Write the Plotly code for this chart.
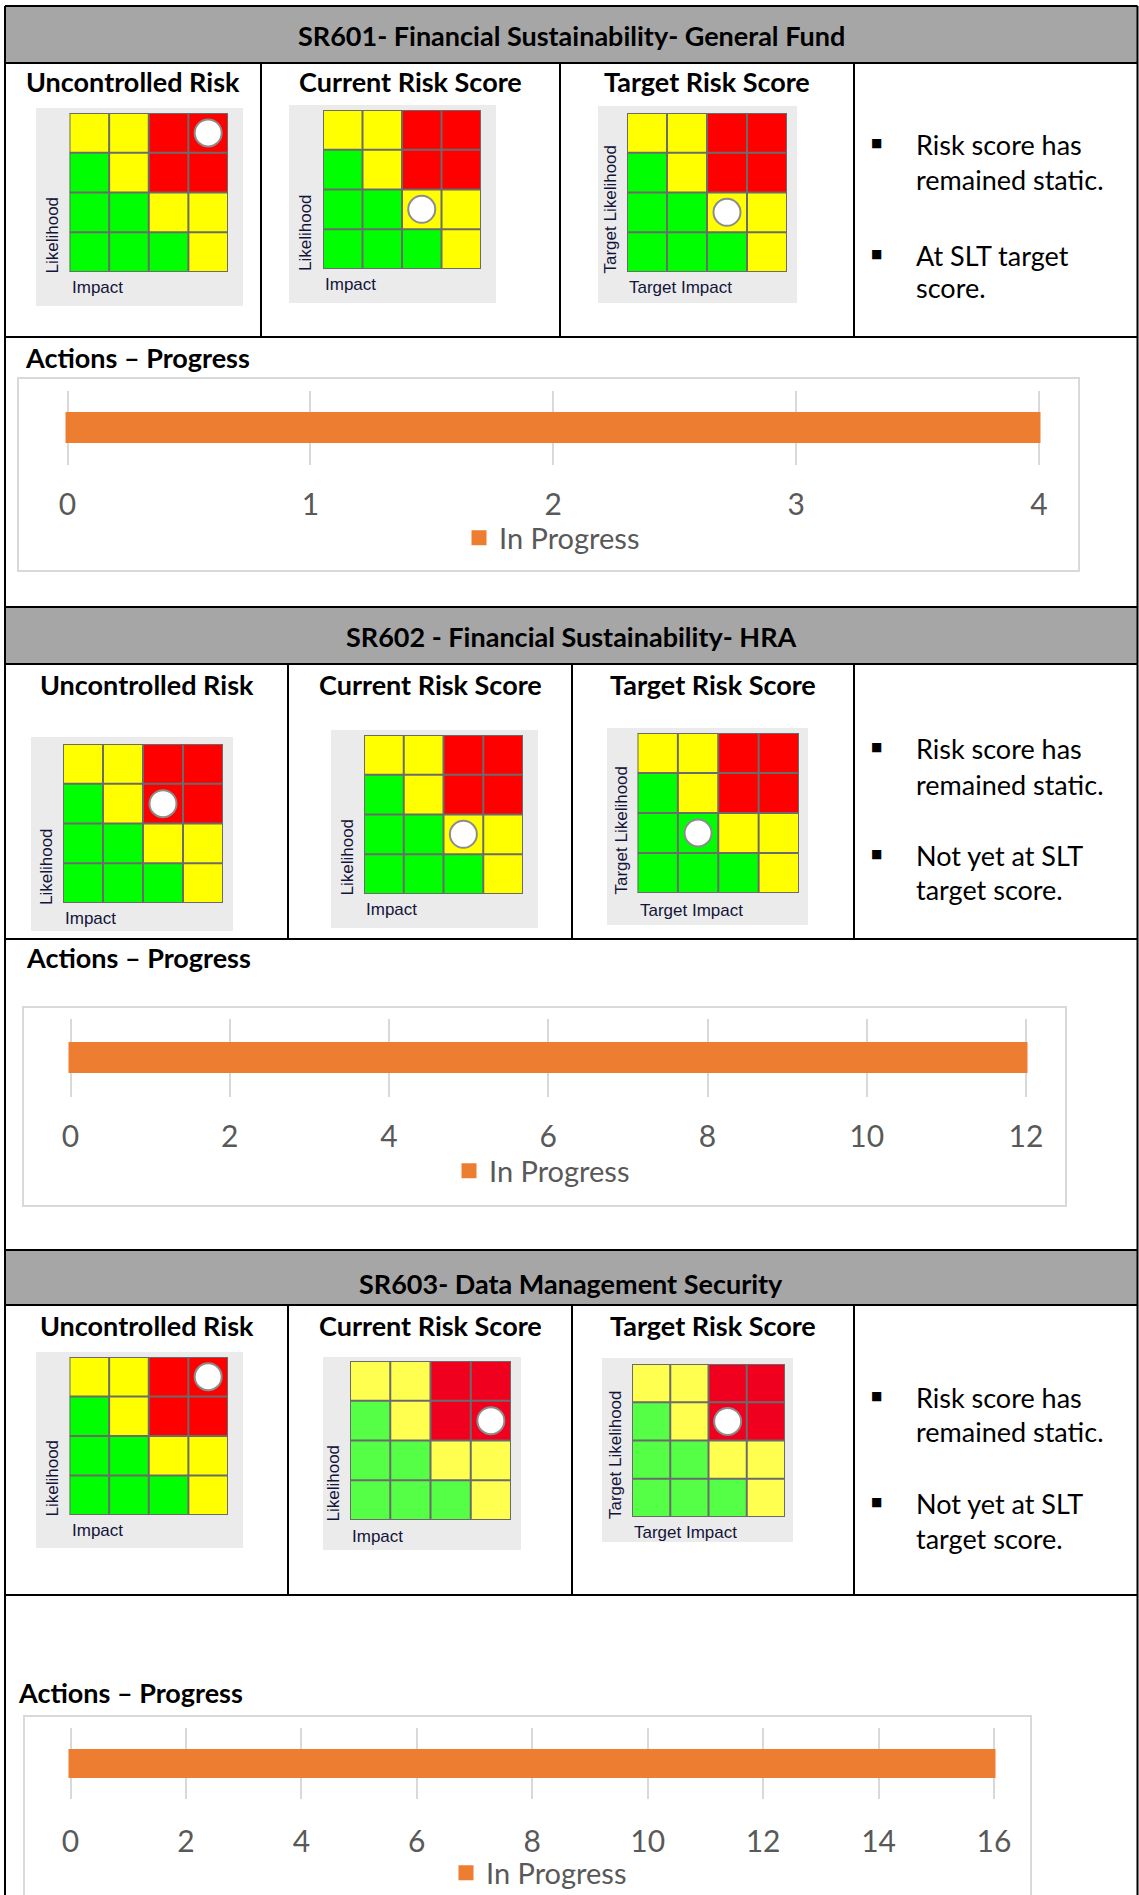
import plotly.graph_objects as go

# ---------------- data ----------------
risk_titles = [
    "SR601- Financial Sustainability- General Fund",
    "SR602 - Financial Sustainability- HRA",
    "SR603- Data Management Security",
]
matrix_titles = ["Uncontrolled Risk", "Current Risk Score", "Target Risk Score"]
likelihood_labels = ["Likelihood", "Likelihood", "Target Likelihood"]
impact_labels = ["Impact", "Impact", "Target Impact"]

impact_levels = [1, 2, 3, 4]
likelihood_levels = [1, 2, 3, 4]
# rating band of every cell (0 = low, 1 = medium, 2 = high);
# rows run from likelihood 1 (bottom) to likelihood 4 (top)
band_rows = [
    [0, 0, 0, 1],
    [0, 0, 1, 1],
    [0, 1, 2, 2],
    [1, 1, 2, 2],
]

uncontrolled_impact = [4, 3, 4]
uncontrolled_likelihood = [4, 3, 4]
current_impact = [3, 3, 4]
current_likelihood = [2, 2, 3]
target_impact = [3, 2, 3]
target_likelihood = [2, 2, 3]

status_notes = [
    [["Risk score has", "remained static."], ["At SLT target", "score."]],
    [["Risk score has", "remained static."], ["Not yet at SLT", "target score."]],
    [["Risk score has", "remained static."], ["Not yet at SLT", "target score."]],
]

actions_heading = "Actions \u2013 Progress"
actions_status = "In Progress"
actions_in_progress = [4, 12, 16]
actions_axis_max = [4, 12, 16]
actions_axis_step = [1, 2, 2]

# ---------------- page geometry (pixels) ----------------
W, H = 1139, 1895
TABLE_L, TABLE_R = 5, 1137.5

header_bands = [(6, 63), (607, 664), (1250, 1305)]
header_text_y = [35, 637, 1283]
matrix_rows = [(63, 337), (664, 939), (1305, 1595)]
section_bottoms = [607, 1250, H + 10]
col_dividers = [[261, 560, 854], [288, 572, 854], [288, 572, 854]]
subtitle_y = [81, 684, 1325]

matrix_geom = [
    [dict(box=(36, 243, 108, 306), grid=(69.5, 228, 113, 272), lx=52, iy=288),
     dict(box=(289, 496, 105, 303), grid=(323, 481, 110, 269), lx=305.5, iy=284.5),
     dict(box=(598, 797, 106, 303), grid=(627, 787, 113, 272), lx=610, iy=288)],
    [dict(box=(31, 233, 737, 931), grid=(63, 223, 744, 903), lx=46.5, iy=918),
     dict(box=(331, 538, 730, 928), grid=(364, 523, 735, 894), lx=347, iy=909),
     dict(box=(607, 808, 728, 925), grid=(637.5, 799, 733, 893), lx=621, iy=910)],
    [dict(box=(36, 243, 1352, 1548), grid=(69.5, 228, 1357, 1515), lx=52, iy=1530),
     dict(box=(323, 521, 1357, 1550), grid=(350, 511, 1361, 1520), lx=333, iy=1536),
     dict(box=(602, 793, 1358, 1542), grid=(632, 785, 1364, 1517), lx=615.5, iy=1532)],
]
VIVID = ["#00FF00", "#FFFF00", "#FF0000"]
SOFT = ["#55FF45", "#FFFF50", "#F0001E"]
palettes = [[VIVID, VIVID, VIVID], [VIVID, VIVID, VIVID], [VIVID, SOFT, SOFT]]

bullet_x, note_x = 876, 914
note_line_y = [
    [(144.5, 179.5), (255, 287.5)],
    [(748, 784), (855, 889.5)],
    [(1397, 1431), (1503, 1538)],
]

heading_pos = [(23, 357), (24, 957), (16, 1692)]
chart_boxes = [(18, 1079, 378, 571), (23, 1066, 1007, 1206), (24, 1031, 1716, H + 20)]
plot_areas = [(67.5, 1039, 391, 465), (70.5, 1026, 1019, 1097), (70.5, 994, 1728, 1799)]
bar_thickness = [31, 31, 29]
tick_standoff = [19, 19, 22]
legend_pos = [(459, 538), (449, 1171), (446, 1873)]

LATO = "Lato"
ARIAL = "Liberation Sans"
BAR_EDGE = 3


def px(x):
    return x / W


def py(y):
    return 1 - y / H


fig = go.Figure()
shapes = []
annotations = []
layout_axes = {}


def note(text, x, y, size, color="black", family=LATO, xanchor="center",
         yanchor="middle", angle=0):
    annotations.append(dict(
        text=text, x=px(x), y=py(y), xref="paper", yref="paper",
        xanchor=xanchor, yanchor=yanchor, showarrow=False, textangle=angle,
        font=dict(family=family, size=size, color=color),
    ))


def rect(x0, x1, y0, y1, fill, line_color=None, line_width=0, layer="below"):
    shapes.append(dict(
        type="rect", xref="paper", yref="paper",
        x0=px(x0), x1=px(x1), y0=py(y1), y1=py(y0),
        fillcolor=fill, layer=layer,
        line=dict(color=line_color or fill, width=line_width),
    ))


def hline(x0, x1, y, width=2):
    shapes.append(dict(type="line", xref="paper", yref="paper",
                       x0=px(x0), x1=px(x1), y0=py(y), y1=py(y),
                       line=dict(color="black", width=width), layer="above"))


def vline(x, y0, y1, width=2):
    shapes.append(dict(type="line", xref="paper", yref="paper",
                       x0=px(x), x1=px(x), y0=py(y0), y1=py(y1),
                       line=dict(color="black", width=width), layer="above"))


axis_no = 0

for r in range(3):
    # header band and title
    hb0, hb1 = header_bands[r]
    rect(TABLE_L, TABLE_R, hb0, hb1, "#A6A6A6")
    note("<b>" + risk_titles[r] + "</b>", 571, header_text_y[r], 27)

    # table rules
    hline(TABLE_L, TABLE_R, hb0)
    hline(TABLE_L, TABLE_R, hb1)
    hline(TABLE_L, TABLE_R, matrix_rows[r][1])
    for cx in col_dividers[r]:
        vline(cx, matrix_rows[r][0], matrix_rows[r][1])

    col_edges = [TABLE_L] + col_dividers[r]
    markers = [
        (uncontrolled_impact[r], uncontrolled_likelihood[r]),
        (current_impact[r], current_likelihood[r]),
        (target_impact[r], target_likelihood[r]),
    ]

    for c in range(3):
        note("<b>" + matrix_titles[c] + "</b>",
             (col_edges[c] + col_edges[c + 1]) / 2, subtitle_y[r], 27)

        g = matrix_geom[r][c]
        bx0, bx1, by0, by1 = g["box"]
        gx0, gx1, gy0, gy1 = g["grid"]
        rect(bx0, bx1, by0, by1, "#EBEBEB")

        axis_no += 1
        xa = "x" if axis_no == 1 else f"x{axis_no}"
        ya = "y" if axis_no == 1 else f"y{axis_no}"
        layout_axes["xaxis" if axis_no == 1 else f"xaxis{axis_no}"] = dict(
            domain=[px(gx0), px(gx1)], range=[0.5, 4.5], anchor=ya,
            visible=False, fixedrange=True)
        layout_axes["yaxis" if axis_no == 1 else f"yaxis{axis_no}"] = dict(
            domain=[py(gy1), py(gy0)], range=[0.5, 4.5], anchor=xa,
            visible=False, fixedrange=True)

        pal = palettes[r][c]
        fig.add_trace(go.Heatmap(
            z=band_rows, x=impact_levels, y=likelihood_levels,
            zmin=0, zmax=2, showscale=False, hoverinfo="skip",
            colorscale=[[0, pal[0]], [0.5, pal[1]], [1, pal[2]]],
            xaxis=xa, yaxis=ya,
        ))
        # cell borders
        for k in range(5):
            edge = 0.5 + k
            shapes.append(dict(type="line", xref=xa, yref=ya, x0=edge, x1=edge,
                               y0=0.5, y1=4.5, layer="above",
                               line=dict(color="#6B6B6B", width=2)))
            shapes.append(dict(type="line", xref=xa, yref=ya, x0=0.5, x1=4.5,
                               y0=edge, y1=edge, layer="above",
                               line=dict(color="#6B6B6B", width=2)))
        mi, ml = markers[c]
        fig.add_trace(go.Scatter(
            x=[mi], y=[ml], mode="markers", xaxis=xa, yaxis=ya,
            hoverinfo="skip", showlegend=False,
            marker=dict(size=27, color="white",
                        line=dict(color="#8C8C8C", width=2)),
        ))
        note(likelihood_labels[c], g["lx"], gy1 + 4, 17, color="#14143A",
             family=ARIAL, yanchor="bottom", angle=-90)
        note(impact_labels[c], gx0, g["iy"], 17, color="#14143A",
             family=ARIAL, xanchor="left")

    # status notes
    for b in range(2):
        y_first, y_second = note_line_y[r][b]
        note("\u25A0", bullet_x, y_first - 1, 12, family="DejaVu Sans")
        note(status_notes[r][b][0], note_x, y_first, 27, xanchor="left")
        note(status_notes[r][b][1], note_x, y_second, 27, xanchor="left")

    # actions progress chart
    hx, hy = heading_pos[r]
    note("<b>" + actions_heading + "</b>", hx, hy, 27, xanchor="left")
    cb = chart_boxes[r]
    rect(cb[0], cb[1], cb[2], cb[3], "white", "#D9D9D9", 2)

    pa = plot_areas[r]
    axis_no += 1
    xa, ya = f"x{axis_no}", f"y{axis_no}"
    # widen the plotting strip by a few pixels so the end gridlines are kept
    units_per_px = actions_axis_max[r] / (pa[1] - pa[0])
    ext = 3
    layout_axes[f"xaxis{axis_no}"] = dict(
        domain=[px(pa[0] - ext), px(pa[1] + ext)],
        range=[-ext * units_per_px, actions_axis_max[r] + ext * units_per_px],
        dtick=actions_axis_step[r], tick0=0, anchor=ya,
        showgrid=True, gridcolor="#D9D9D9", gridwidth=1.5,
        zeroline=False, showline=False, ticks="", automargin=False,
        ticklabelstandoff=tick_standoff[r],
        tickfont=dict(family=LATO, size=30, color="#595959"),
        fixedrange=True)
    plot_h = pa[3] - pa[2]
    layout_axes[f"yaxis{axis_no}"] = dict(
        domain=[py(pa[3]), py(pa[2])], range=[-0.5, 0.5], anchor=xa,
        visible=False, fixedrange=True)
    legend_name = "legend" if r == 0 else f"legend{r + 1}"
    fig.add_trace(go.Bar(
        x=[actions_in_progress[r]], y=[0], orientation="h",
        name=actions_status, width=(bar_thickness[r] - BAR_EDGE) / plot_h,
        marker=dict(color="#ED7D31", line=dict(color="#ED7D31", width=BAR_EDGE)),
        xaxis=xa, yaxis=ya, legend=legend_name, showlegend=True,
        hoverinfo="skip",
    ))
    lx, ly = legend_pos[r]
    layout_axes[legend_name] = dict(
        x=px(lx), y=py(ly), xanchor="left", yanchor="middle",
        bgcolor="rgba(0,0,0,0)", borderwidth=0,
        font=dict(family=LATO, size=29, color="#595959"),
    )

    # remaining table rules of the section
    vline(TABLE_L, header_bands[r][0], section_bottoms[r])
    vline(TABLE_R, header_bands[r][0], section_bottoms[r])

fig.update_layout(
    width=W, height=H, autosize=False,
    margin=dict(l=0, r=0, t=0, b=0, pad=0, autoexpand=False),
    paper_bgcolor="white", plot_bgcolor="rgba(0,0,0,0)",
    shapes=shapes, annotations=annotations,
    bargap=0, showlegend=True,
    **layout_axes,
)

# keep the page flush with the window
page_fix = (
    "document.documentElement.style.overflow='hidden';"
    "document.body.style.margin='0';"
    "document.body.style.overflow='hidden';"
)

fig.write_html("out.html", config={"displayModeBar": False, "responsive": False},
               post_script=page_fix)
